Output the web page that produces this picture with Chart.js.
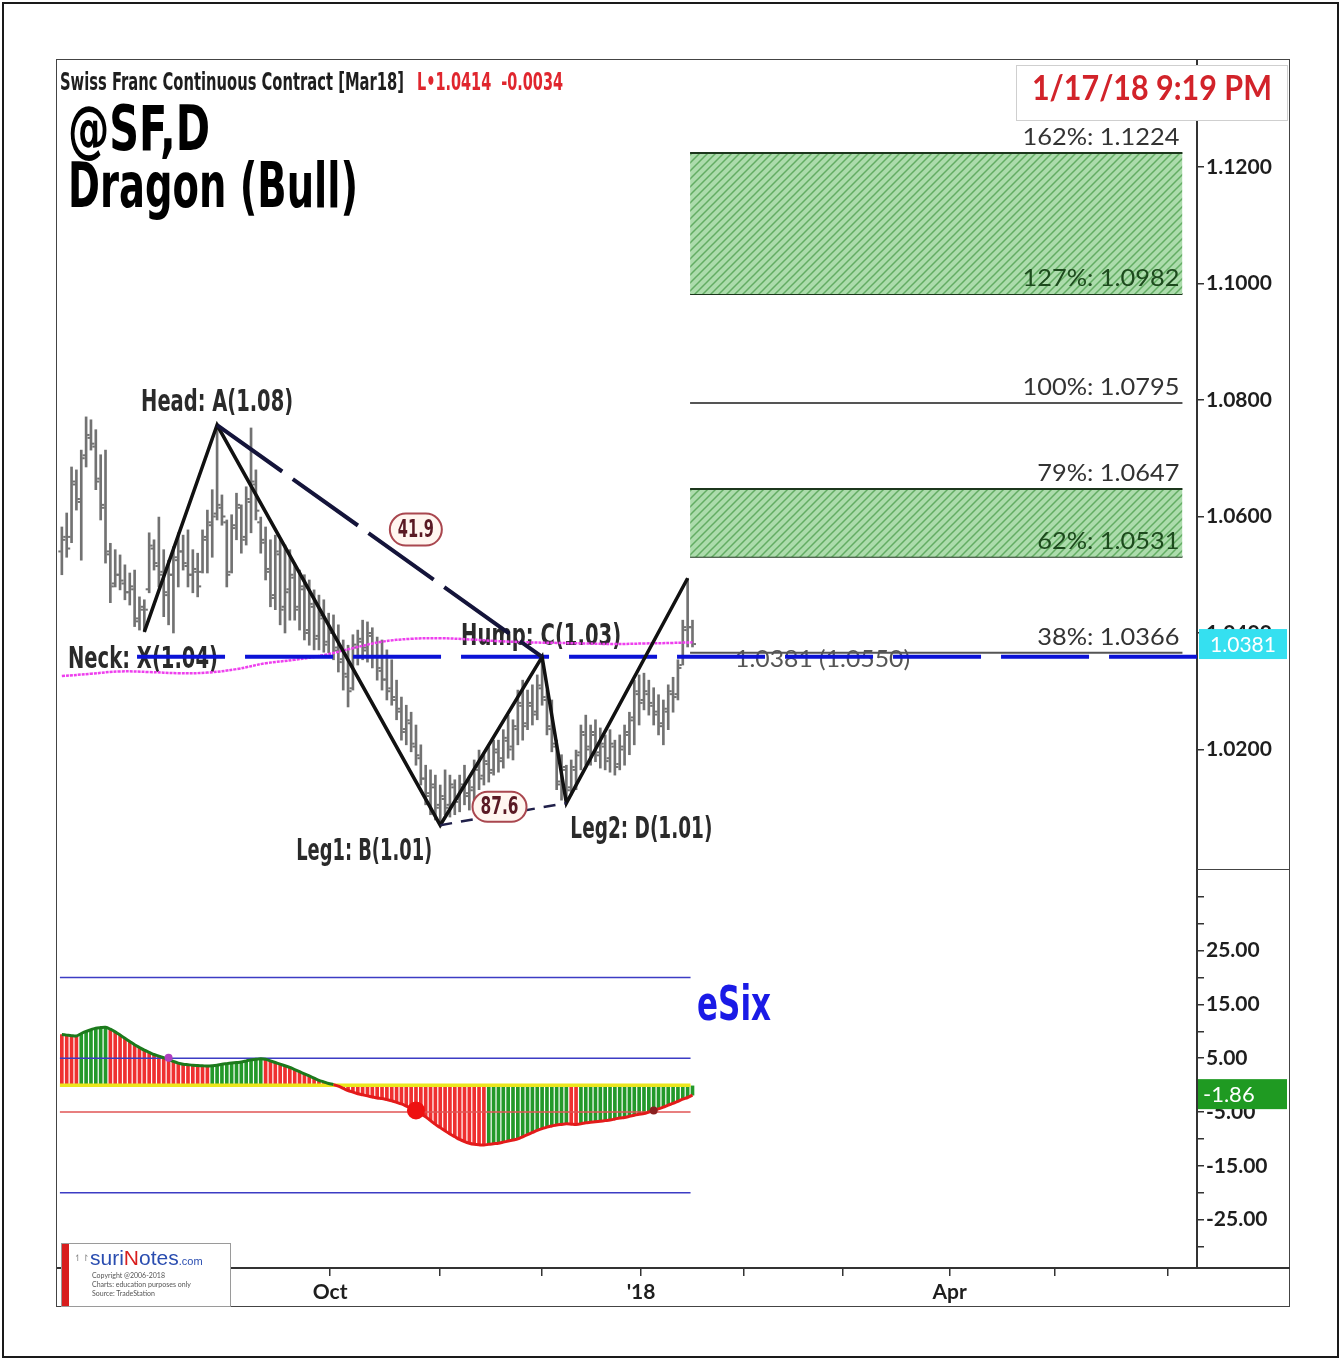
<!DOCTYPE html>
<html>
<head>
<meta charset="utf-8">
<script src="https://cdn.jsdelivr.net/npm/chart.js@4.4.1/dist/chart.umd.min.js"></script>
<style>
  html, body { margin:0; padding:0; background:#fff; }
  #page { position:relative; width:1341px; height:1360px; overflow:hidden; background:#fff; }
  .abs { position:absolute; }
  .cond { font-family:"Liberation Sans Narrow","DejaVu Sans Condensed","Liberation Sans",sans-serif; font-weight:bold; white-space:nowrap; transform-origin:0 0; line-height:1; }
  canvas { position:absolute; }
</style>
</head>
<body>
<div id="page">
  <canvas id="priceChart" width="1233" height="810" style="left:57px;top:60px"></canvas>
  <canvas id="oscChart" width="1233" height="437" style="left:57px;top:870px"></canvas>

  <div class="abs" style="left:2px;top:2px;width:1333px;height:1352px;border:2px solid #1a1a1a"></div>
  <div class="abs" style="left:56px;top:59px;width:1232px;height:1246px;border:1.5px solid #444"></div>
  <div class="abs" style="left:1197px;top:869px;width:93px;border-top:1.5px solid #444"></div>
  <div class="abs" style="left:1197px;top:1267px;width:93px;border-top:2px solid #333"></div>

  <div class="abs cond fit" data-w="344" style="left:60px;top:70px;font-size:24px;color:#1e1e1e">Swiss Franc Continuous Contract [Mar18]</div>
  <div class="abs cond fit" data-w="146" style="left:417px;top:70px;font-size:24px;color:#e0262e">L•1.0414&nbsp;&nbsp;-0.0034</div>
  <div class="abs cond fit" data-w="142" style="left:68px;top:98px;font-size:62px;color:#000">@SF,D</div>
  <div class="abs cond fit" data-w="290" style="left:68px;top:154px;font-size:63px;color:#000">Dragon (Bull)</div>
  <div class="abs cond fit" data-w="74" style="left:697px;top:979px;font-size:48px;color:#1a1ae6">eSix</div>

  <div class="abs" style="left:1016px;top:65px;width:270px;height:54px;border:1px solid #cfcfcf;background:#fff;text-align:center;line-height:54px">
    <span class="fitc" data-w="240" style="display:inline-block;font:bold 34px Lato, sans-serif;color:#d2232a;transform-origin:50% 50%">1/17/18 9:19 PM</span>
  </div>

  <div class="abs" style="left:61px;top:1243px;width:168px;height:62px;border:1px solid #9a9a9a;background:#fff">
    <div style="position:absolute;left:0;top:0;width:7px;height:62px;background:#d81e1e"></div>
    <div style="position:absolute;left:12px;top:8px;font:9px Lato, sans-serif;color:#888">↿↾</div>
    <div style="position:absolute;left:28px;top:2px;font:21px 'Liberation Sans Narrow', 'Liberation Sans', sans-serif;color:#2a4db0">suri<span style="color:#d81e1e">N</span>otes<span style="font-size:11px">.com</span></div>
    <div style="position:absolute;left:30px;top:27px;font:7px Lato, sans-serif;color:#555;line-height:9px;white-space:nowrap">Copyright @2006-2018<br>Charts: education purposes only<br>Source: TradeStation</div>
  </div>
</div>

<script>
// ---------- price bars (daily, index 0 = mid July 2017, index 130 = 17 Jan 2018) ----------
const highs = [
  1.0582,1.0606,1.0685,1.0680,1.0714,1.0771,1.0766,1.0749,1.0706,1.0714,
  1.0554,1.0543,1.0534,1.0517,1.0503,1.0508,1.0462,1.0457,1.0572,1.0560,
  1.0599,1.0543,1.0525,1.0548,1.0572,1.0568,1.0577,1.0543,1.0537,1.0577,
  1.0611,1.0646,1.0757,1.0637,1.0594,1.0603,1.0640,1.0620,1.0651,1.0752,
  1.0680,1.0599,1.0582,1.0560,1.0568,1.0560,1.0551,1.0543,1.0520,1.0508,
  1.0500,1.0491,1.0474,1.0465,1.0457,1.0434,1.0431,1.0414,1.0388,1.0379,
  1.0397,1.0405,1.0422,1.0419,1.0409,1.0393,1.0388,1.0371,1.0354,1.0319,
  1.0290,1.0276,1.0264,1.0242,1.0208,1.0173,1.0165,1.0156,1.0139,1.0165,
  1.0156,1.0148,1.0156,1.0173,1.0148,1.0182,1.0199,1.0191,1.0208,1.0216,
  1.0216,1.0234,1.0259,1.0251,1.0302,1.0319,1.0302,1.0311,1.0328,1.0357,
  1.0302,1.0285,1.0216,1.0191,1.0173,1.0182,1.0199,1.0242,1.0259,1.0242,
  1.0251,1.0237,1.0225,1.0234,1.0216,1.0225,1.0242,1.0264,1.0319,1.0328,
  1.0331,1.0319,1.0306,1.0294,1.0285,1.0311,1.0324,1.0354,1.0422,1.0494,
  1.0422];
const lows = [
  1.0500,1.0530,1.0555,1.0611,1.0525,1.0685,1.0714,1.0646,1.0594,1.0520,
  1.0452,1.0479,1.0474,1.0457,1.0448,1.0411,1.0405,1.0402,1.0469,1.0508,
  1.0479,1.0428,1.0414,1.0400,1.0479,1.0508,1.0479,1.0469,1.0462,1.0503,
  1.0503,1.0530,1.0594,1.0585,1.0479,1.0503,1.0560,1.0537,1.0551,1.0572,
  1.0594,1.0537,1.0491,1.0445,1.0440,1.0414,1.0400,1.0422,1.0422,1.0405,
  1.0388,1.0379,1.0371,1.0371,1.0367,1.0366,1.0354,1.0333,1.0302,1.0273,
  1.0302,1.0345,1.0354,1.0350,1.0340,1.0319,1.0302,1.0285,1.0276,1.0251,
  1.0216,1.0208,1.0196,1.0173,1.0139,1.0105,1.0088,1.0079,1.0070,1.0088,
  1.0084,1.0088,1.0093,1.0105,1.0096,1.0113,1.0131,1.0139,1.0144,1.0156,
  1.0161,1.0168,1.0185,1.0182,1.0208,1.0216,1.0234,1.0242,1.0251,1.0276,
  1.0225,1.0196,1.0131,1.0113,1.0108,1.0122,1.0131,1.0165,1.0173,1.0173,
  1.0179,1.0168,1.0165,1.0161,1.0156,1.0165,1.0173,1.0191,1.0208,1.0242,
  1.0268,1.0259,1.0242,1.0225,1.0208,1.0234,1.0264,1.0285,1.0345,1.0376,
  1.0376];
const opens = [
  1.0540,1.0565,1.0565,1.0655,1.0625,1.0705,1.0735,1.0720,1.0665,1.0615,
  1.0535,1.0485,1.0500,1.0485,1.0470,1.0475,1.0425,1.0445,1.0475,1.0545,
  1.0515,1.0505,1.0465,1.0500,1.0525,1.0540,1.0515,1.0500,1.0505,1.0505,
  1.0565,1.0585,1.0605,1.0615,1.0590,1.0505,1.0585,1.0615,1.0565,1.0625,
  1.0655,1.0590,1.0555,1.0505,1.0465,1.0535,1.0445,1.0475,1.0495,1.0445,
  1.0475,1.0405,1.0445,1.0395,1.0425,1.0385,1.0400,1.0375,1.0355,1.0325,
  1.0305,1.0375,1.0385,1.0375,1.0395,1.0360,1.0335,1.0320,1.0305,1.0285,
  1.0265,1.0235,1.0245,1.0205,1.0185,1.0150,1.0125,1.0135,1.0105,1.0115,
  1.0105,1.0135,1.0115,1.0135,1.0125,1.0135,1.0165,1.0155,1.0175,1.0165,
  1.0195,1.0185,1.0215,1.0205,1.0235,1.0275,1.0245,1.0275,1.0265,1.0305,
  1.0285,1.0235,1.0205,1.0145,1.0165,1.0135,1.0165,1.0195,1.0225,1.0205,
  1.0225,1.0195,1.0205,1.0185,1.0205,1.0175,1.0205,1.0225,1.0255,1.0295,
  1.0285,1.0295,1.0275,1.0265,1.0245,1.0265,1.0295,1.0295,1.0345,1.0405,
  1.0410];
const closes = [
  1.0560,1.0545,1.0660,1.0630,1.0700,1.0740,1.0725,1.0660,1.0620,1.0540,
  1.0480,1.0500,1.0490,1.0470,1.0480,1.0420,1.0440,1.0440,1.0550,1.0520,
  1.0500,1.0470,1.0500,1.0530,1.0540,1.0520,1.0500,1.0510,1.0480,1.0560,
  1.0590,1.0600,1.0620,1.0600,1.0500,1.0580,1.0620,1.0560,1.0630,1.0660,
  1.0610,1.0560,1.0510,1.0460,1.0540,1.0440,1.0470,1.0500,1.0440,1.0480,
  1.0400,1.0450,1.0390,1.0430,1.0380,1.0400,1.0370,1.0350,1.0330,1.0300,
  1.0380,1.0390,1.0370,1.0400,1.0360,1.0340,1.0320,1.0300,1.0290,1.0270,
  1.0230,1.0250,1.0210,1.0190,1.0150,1.0120,1.0140,1.0100,1.0120,1.0100,
  1.0140,1.0110,1.0140,1.0120,1.0130,1.0170,1.0150,1.0180,1.0160,1.0200,
  1.0180,1.0220,1.0200,1.0240,1.0280,1.0240,1.0280,1.0260,1.0310,1.0290,
  1.0240,1.0210,1.0140,1.0170,1.0130,1.0170,1.0190,1.0230,1.0200,1.0230,
  1.0190,1.0210,1.0180,1.0210,1.0170,1.0200,1.0230,1.0250,1.0300,1.0280,
  1.0300,1.0280,1.0260,1.0240,1.0270,1.0300,1.0290,1.0340,1.0410,1.0410,
  1.0381];
const lastPrice = 1.0381;

// moving average (magenta)
const maIdx = [0, 6, 12, 18, 24, 30, 36, 42, 48, 54, 60, 66, 72, 78, 84, 90, 96, 102, 108, 114, 120, 126, 130];
const maVal = [1.0326,1.0330,1.0334,1.0333,1.0331,1.0332,1.0338,1.0348,1.0354,1.0362,1.0374,1.0385,
               1.0390,1.0391,1.0389,1.0386,1.0384,1.0383,1.0382,1.0381,1.0382,1.0383,1.0384];

// dragon pattern points X, A, B, C, D and last swing
const patIdx = [17, 32, 78, 99, 104, 129];
const patVal = [1.0402, 1.0757, 1.0070, 1.0359, 1.0108, 1.0494];
const patLabels = ['Neck: X(1.04)', 'Head: A(1.08)', 'Leg1: B(1.01)', 'Hump: C(1.03)', 'Leg2: D(1.01)'];
const ratioLabels = ['41.9', '87.6'];

// neckline
const neckVal = 1.0359;
const neckFrom = 15.5, neckTo = 234;
const neckNote = '1.0381 (1.0550)';

// projection levels
const fibPct = ['162%', '127%', '100%', '79%', '62%', '38%'];
const fibVal = [1.1224, 1.0982, 1.0795, 1.0647, 1.0531, 1.0366];
const fibFrom = 129.5, fibTo = 231;

const priceTicks = [1.02, 1.04, 1.06, 1.08, 1.10, 1.12];

// eSix oscillator
const oscVals = [
  9.4, 9.3, 9.2, 9.15, 9.6, 10.0, 10.3, 10.6, 10.7, 10.75,
  10.4, 9.9, 9.3, 8.7, 8.1, 7.5, 7.0, 6.5, 6.1, 5.7,
  5.4, 5.1, 4.8, 4.4, 4.1, 3.9, 3.8, 3.7, 3.65, 3.6,
  3.55, 3.6, 3.7, 3.9, 4.0, 4.1, 4.2, 4.3, 4.5, 4.7,
  4.8, 4.9, 4.8, 4.5, 4.2, 3.9, 3.6, 3.3, 2.9, 2.5,
  2.1, 1.7, 1.3, 0.9, 0.6, 0.3, 0.1, -0.2, -0.6, -1.0,
  -1.3, -1.6, -1.8, -2.0, -2.2, -2.4, -2.5, -2.7, -2.9, -3.2,
  -3.5, -3.9, -4.3, -4.7, -5.3, -5.9, -6.6, -7.3, -7.9, -8.5,
  -9.1, -9.6, -10.1, -10.5, -10.8, -11.0, -11.1, -11.15, -11.0, -10.9,
  -10.8, -10.6, -10.4, -10.2, -10.0, -9.6, -9.2, -8.8, -8.4, -8.1,
  -7.8, -7.6, -7.4, -7.3, -7.2, -7.25, -7.3, -7.2, -7.0, -6.9,
  -6.8, -6.7, -6.6, -6.5, -6.3, -6.1, -6.0, -5.8, -5.6, -5.4,
  -5.3, -5.0, -4.7, -4.4, -4.1, -3.7, -3.4, -3.0, -2.6, -2.3,
  -1.86];
const oscLevels = [20, 5, 0, -5, -20];
const levelFrom = -0.4, levelTo = 129.6;
const oscTicks = [-30, -25, -20, -15, -10, -5, 0, 5, 10, 15, 20, 25, 30, 35];
const oscLabelTicks = [25, 15, 5, -5, -15, -25];
const oscDotIdx = [22, 73, 122];
const oscDotVal = [5.1, -4.7, -4.7];

// time axis
const monthIdx = [55.3, 77.9, 99, 119.4, 140.6, 161, 183, 204.7, 228];
const monthLbl = ['Oct', '', '', "'18", '', '', 'Apr', '', ''];

// ---------- styles ----------
const COND = '"Liberation Sans Narrow","DejaVu Sans Condensed","Liberation Sans",sans-serif';
const levelColors = ['#3c3cc4', '#3c3cc4', '#ece61c', '#e05555', '#3c3cc4'];
const levelWidths = [1.5, 1.5, 3.5, 1.5, 1.5];
const GREEN = '#23992a', RED = '#ef3030';

Chart.defaults.font.family = 'Lato, sans-serif';

function drawFit(ctx, text, x, y, w, align) {
  const m = ctx.measureText(text).width;
  ctx.save();
  ctx.translate(x, y);
  ctx.scale(w / m, 1);
  ctx.textAlign = align;
  ctx.fillText(text, 0, 0);
  ctx.restore();
}

function pill(ctx, cx, cy, w, h, text) {
  const r = h / 2, l = cx - w / 2, t = cy - h / 2;
  ctx.save();
  ctx.beginPath();
  ctx.moveTo(l + r, t);
  ctx.lineTo(l + w - r, t);
  ctx.arc(l + w - r, cy, r, -Math.PI / 2, Math.PI / 2);
  ctx.lineTo(l + r, t + h);
  ctx.arc(l + r, cy, r, Math.PI / 2, Math.PI * 1.5);
  ctx.closePath();
  ctx.fillStyle = '#fff6f0';
  ctx.fill();
  ctx.lineWidth = 2;
  ctx.strokeStyle = '#a9474f';
  ctx.stroke();
  ctx.fillStyle = '#5a1a24';
  ctx.font = 'bold 25px ' + COND;
  ctx.textBaseline = 'middle';
  drawFit(ctx, text, cx, cy + 1, w - 16, 'center');
  ctx.restore();
}

function makeHatch() {
  const c = document.createElement('canvas');
  c.width = 8; c.height = 8;
  const g = c.getContext('2d');
  g.fillStyle = '#acdcac';
  g.fillRect(0, 0, 8, 8);
  g.strokeStyle = '#63ad63';
  g.lineWidth = 1.5;
  g.beginPath();
  g.moveTo(0, 8); g.lineTo(8, 0);
  g.moveTo(-2, 2); g.lineTo(2, -2);
  g.moveTo(6, 10); g.lineTo(10, 6);
  g.stroke();
  return g.createPattern(c, 'repeat');
}

const pt = (i, v) => ({ x: i, y: v });

const priceDecor = {
  id: 'priceDecor',
  beforeDatasetsDraw(chart) {
    const { ctx, chartArea, scales: { x, y } } = chart;
    const P = patIdx.map((i, k) => ({ x: x.getPixelForValue(i), y: y.getPixelForValue(patVal[k]) }));
    const neckY = y.getPixelForValue(neckVal);
    ctx.save();
    ctx.fillStyle = '#2a2a2a';
    ctx.font = 'bold 31px ' + COND;
    drawFit(ctx, patLabels[0], chartArea.left + 11, neckY + 11, 150, 'left');
    drawFit(ctx, patLabels[1], P[1].x, P[1].y - 14, 152, 'center');
    drawFit(ctx, patLabels[2], P[2].x - 76, P[2].y + 35, 136, 'center');
    drawFit(ctx, patLabels[3], P[3].x - 1, P[3].y - 12, 160, 'center');
    drawFit(ctx, patLabels[4], P[4].x + 4, P[4].y + 35, 142, 'left');
    ctx.fillStyle = '#555';
    ctx.font = '23px Lato, sans-serif';
    drawFit(ctx, neckNote, x.getPixelForValue(fibFrom) + 45, neckY + 10, 175, 'left');
    ctx.restore();
  },
  afterDatasetDraw(chart, args) {
    if (args.index !== 0) return;
    const { ctx, scales: { x, y } } = chart;
    ctx.save();
    ctx.fillStyle = '#727272';
    for (let i = 0; i < highs.length; i++) {
      const xp = x.getPixelForValue(i);
      const o = Math.min(highs[i], Math.max(lows[i], opens[i]));
      const c = Math.min(highs[i], Math.max(lows[i], closes[i]));
      ctx.fillRect(xp - 3.5, y.getPixelForValue(o) - 1, 2.5, 2);
      ctx.fillRect(xp + 1, y.getPixelForValue(c) - 1, 2.5, 2);
    }
    ctx.restore();
  },
  afterDatasetsDraw(chart) {
    const { ctx, scales: { x, y } } = chart;
    const P = patIdx.map((i, k) => ({ x: x.getPixelForValue(i), y: y.getPixelForValue(patVal[k]) }));
    // ratio bubbles
    const a = P[1], c = P[3], b = P[2], d = P[4];
    pill(ctx, a.x + (c.x - a.x) * 0.55 + 20, a.y + (c.y - a.y) * 0.55 - 23, 52, 32, ratioLabels[0]);
    pill(ctx, b.x + (d.x - b.x) * 0.47, b.y + (d.y - b.y) * 0.47 - 8, 54, 30, ratioLabels[1]);
    // projection labels
    ctx.save();
    ctx.font = '24px Lato, sans-serif';
    const s = 157 / ctx.measureText(fibPct[0] + ': ' + fibVal[0].toFixed(4)).width;
    const xr = x.getPixelForValue(fibTo) - 3;
    fibVal.forEach((v, k) => {
      const t = fibPct[k] + ': ' + v.toFixed(4);
      ctx.fillStyle = (k === 1 || k === 4) ? '#1d4a1d' : '#333';
      const w = ctx.measureText(t).width * s;
      drawFit(ctx, t, xr, y.getPixelForValue(v) - 8, w, 'right');
    });
    ctx.restore();
  },
  afterDraw(chart) {
    const { ctx, chartArea, scales: { y } } = chart;
    const yp = y.getPixelForValue(lastPrice);
    ctx.save();
    ctx.fillStyle = '#35e0f0';
    ctx.fillRect(chartArea.right + 2, yp - 15, 88, 30);
    ctx.fillStyle = '#fff';
    ctx.font = '21px Lato, sans-serif';
    ctx.textBaseline = 'middle';
    ctx.textAlign = 'center';
    ctx.fillText(lastPrice.toFixed(4), chartArea.right + 46, yp + 1);
    ctx.restore();
  }
};

const oscDecor = {
  id: 'oscDecor',
  afterDraw(chart) {
    const { ctx, chartArea, scales: { y } } = chart;
    const v = oscVals[oscVals.length - 1];
    const yp = y.getPixelForValue(v);
    ctx.save();
    ctx.fillStyle = '#1f9a22';
    ctx.fillRect(chartArea.right + 1, yp - 16, 89, 30);
    ctx.fillStyle = '#fff';
    ctx.font = '22px Lato, sans-serif';
    ctx.textBaseline = 'middle';
    ctx.textAlign = 'left';
    ctx.fillText(v.toFixed(2), chartArea.right + 6, yp);
    ctx.restore();
  }
};

function build() {
  const hatch = makeHatch();

  const fibSets = fibVal.map((v, k) => ({
    type: 'line',
    data: [pt(fibFrom, v), pt(fibTo, v)],
    borderColor: (k === 2 || k === 5) ? '#555' : '#1c361c',
    borderWidth: 2,
    pointRadius: 0,
    fill: (k === 0 || k === 3) ? '+1' : false,
    backgroundColor: hatch,
    order: 8
  }));

  new Chart(document.getElementById('priceChart'), {
    type: 'bar',
    data: {
      datasets: [
        {
          type: 'bar',
          data: highs.map((h, i) => ({ x: i, y: [lows[i], h] })),
          backgroundColor: '#727272',
          barThickness: 2,
          order: 10
        },
        {
          type: 'line',
          data: maIdx.map((i, k) => pt(i, maVal[k])),
          borderColor: '#ee3fee',
          borderWidth: 2.5,
          borderDash: [3, 1],
          pointRadius: 0,
          tension: 0.4,
          order: 9
        },
        ...fibSets,
        {
          type: 'line',
          data: [pt(neckFrom, neckVal), pt(neckTo, neckVal)],
          borderColor: '#0b12d6',
          borderWidth: 4,
          borderDash: [88, 20],
          pointRadius: 0,
          order: 7
        },
        {
          type: 'line',
          data: patIdx.map((i, k) => pt(i, patVal[k])),
          borderColor: '#111',
          borderWidth: 3.5,
          pointRadius: 0,
          order: 5
        },
        {
          type: 'line',
          data: [pt(patIdx[1], patVal[1]), pt(patIdx[3], patVal[3])],
          borderColor: '#14143a',
          borderWidth: 4,
          borderDash: [80, 13],
          pointRadius: 0,
          order: 4
        },
        {
          type: 'line',
          data: [pt(patIdx[2], patVal[2]), pt(patIdx[4], patVal[4])],
          borderColor: '#20204a',
          borderWidth: 2.5,
          borderDash: [12, 9],
          pointRadius: 0,
          order: 4
        }
      ]
    },
    options: {
      responsive: false,
      animation: false,
      events: [],
      layout: { padding: 0, autoPadding: false },
      plugins: { legend: { display: false }, tooltip: { enabled: false } },
      scales: {
        x: { type: 'linear', min: -1, max: 234, offset: false, display: false },
        y: {
          type: 'linear',
          position: 'right',
          min: 0.99931,
          max: 1.13837,
          afterBuildTicks: s => { s.ticks = priceTicks.map(v => ({ value: v })); },
          afterFit: s => { s.width = 93; s.paddingTop = 0; s.paddingBottom = 0; },
          ticks: {
            callback: v => v.toFixed(4),
            color: '#1e1e1e',
            padding: 2,
            font: { size: 21, weight: 'bold' }
          },
          grid: { display: true, offset: false, drawOnChartArea: false, drawTicks: true, tickLength: 7, color: '#333', lineWidth: 1.5 },
          border: { display: true, color: '#333', width: 2 }
        }
      }
    },
    plugins: [priceDecor]
  });

  const levelSets = oscLevels.map((v, k) => ({
    type: 'line',
    data: [pt(levelFrom, v), pt(levelTo, v)],
    borderColor: levelColors[k],
    borderWidth: levelWidths[k],
    pointRadius: 0,
    order: 5
  }));

  new Chart(document.getElementById('oscChart'), {
    type: 'bar',
    data: {
      datasets: [
        {
          type: 'bar',
          data: oscVals.map((v, i) => pt(i, v)),
          backgroundColor: oscVals.map((v, i) => (i > 0 && v >= oscVals[i - 1]) ? GREEN : RED),
          barThickness: 3,
          order: 10
        },
        ...levelSets,
        {
          type: 'line',
          data: oscVals.map((v, i) => pt(i, v)),
          borderWidth: 3,
          pointRadius: 0,
          tension: 0.3,
          segment: { borderColor: c => (c.p0.parsed.y + c.p1.parsed.y) / 2 >= 0 ? '#1c7a1c' : '#e31b1b' },
          order: 3
        },
        {
          type: 'line',
          showLine: false,
          data: oscDotIdx.map((i, k) => pt(i, oscDotVal[k])),
          pointRadius: [4, 9, 4],
          pointBackgroundColor: ['#b040c0', '#ee1111', '#8a2020'],
          pointBorderWidth: 0,
          order: 1
        }
      ]
    },
    options: {
      responsive: false,
      animation: false,
      events: [],
      layout: { padding: 0, autoPadding: false },
      plugins: { legend: { display: false }, tooltip: { enabled: false } },
      scales: {
        x: {
          type: 'linear',
          min: -1,
          max: 234,
          offset: false,
          position: 'bottom',
          afterBuildTicks: s => { s.ticks = monthIdx.map(v => ({ value: v })); },
          afterFit: s => { s.height = 39; s.paddingLeft = 0; s.paddingRight = 0; },
          ticks: {
            autoSkip: false,
            maxRotation: 0,
            callback: (v, i) => monthLbl[i],
            color: '#1e1e1e',
            padding: 4,
            font: { size: 21, weight: 'bold' }
          },
          grid: { display: true, offset: false, drawOnChartArea: false, drawTicks: true, tickLength: 8, color: '#333', lineWidth: 1.5 },
          border: { display: true, color: '#333', width: 2 }
        },
        y: {
          type: 'linear',
          position: 'right',
          min: -34,
          max: 40,
          afterBuildTicks: s => { s.ticks = oscTicks.map(v => ({ value: v })); },
          afterFit: s => { s.width = 93; s.paddingTop = 0; s.paddingBottom = 0; },
          ticks: {
            autoSkip: false,
            callback: v => oscLabelTicks.includes(v) ? v.toFixed(2) : '',
            color: '#1e1e1e',
            padding: 2,
            font: { size: 21, weight: 'bold' }
          },
          grid: { display: true, offset: false, drawOnChartArea: false, drawTicks: true, tickLength: 7, color: '#333', lineWidth: 1.5 },
          border: { display: true, color: '#333', width: 2 }
        }
      }
    },
    plugins: [oscDecor]
  });

  document.querySelectorAll('.fit').forEach(el => {
    const w = el.getBoundingClientRect().width;
    el.style.transform = 'scaleX(' + (Number(el.dataset.w) / w) + ')';
  });
  document.querySelectorAll('.fitc').forEach(el => {
    const w = el.getBoundingClientRect().width;
    el.style.transform = 'scaleX(' + (Number(el.dataset.w) / w) + ')';
  });
}

document.fonts.ready.then(build);
</script>
</body>
</html>
